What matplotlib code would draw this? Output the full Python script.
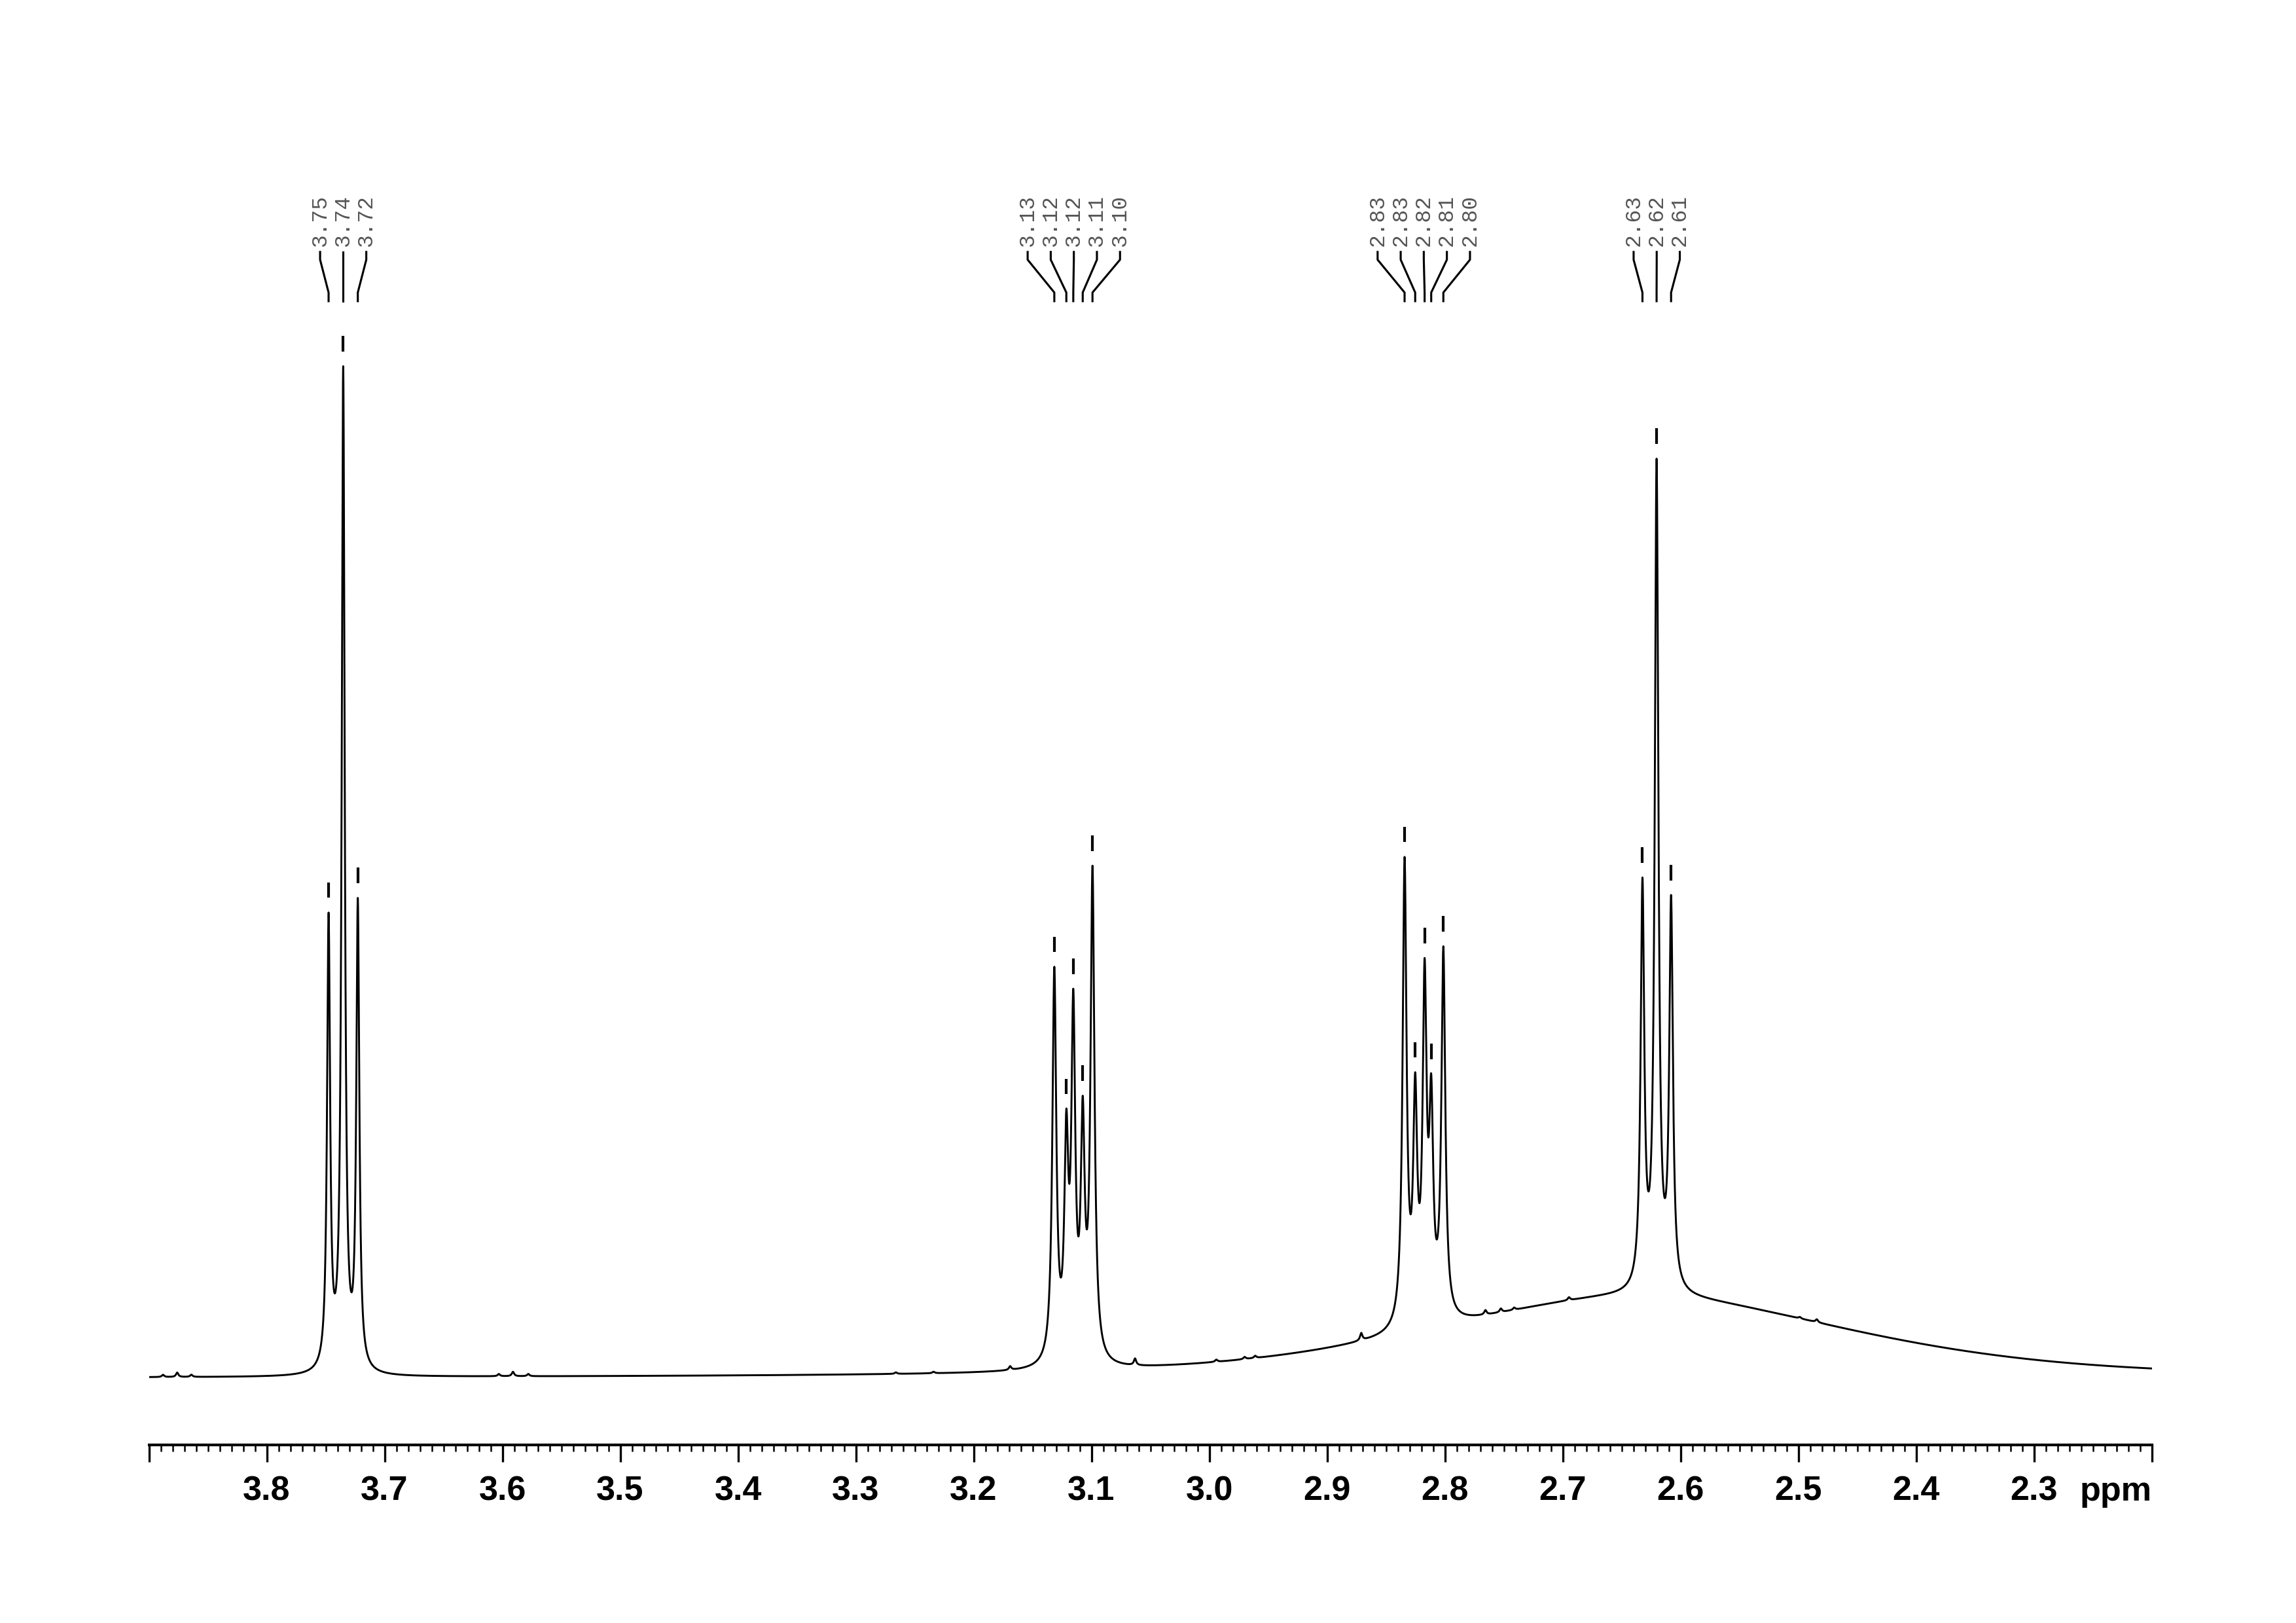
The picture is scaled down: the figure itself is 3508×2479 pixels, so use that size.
import numpy as np
import matplotlib.pyplot as plt

# chemical shifts (ppm) and apparent peak-top heights
t1_ppm = [3.7475, 3.7351, 3.7227]
t1_top = [317, 690, 327]
m2_ppm = [3.1315, 3.1213, 3.1154, 3.1074, 3.0991]
m2_top = [280, 183, 265, 192, 349]
m3_ppm = [2.8342, 2.8252, 2.8172, 2.8116, 2.8013]
m3_top = [355, 208, 286, 207, 294]
t4_ppm = [2.6323, 2.6203, 2.6080]
t4_top = [341, 627, 329]

# half widths per multiplet (ppm)
group_hw = [0.00155, 0.0020, 0.0020, 0.00185]

# peak labels as printed above the multiplets
t1_lab = ['3.75', '3.74', '3.72']
m2_lab = ['3.13', '3.12', '3.12', '3.11', '3.10']
m3_lab = ['2.83', '2.83', '2.82', '2.81', '2.80']
t4_lab = ['2.63', '2.62', '2.61']

# broad underlying signal
hump_ppm = 2.635
hump_height = 56
hump_hw = 0.21
offset = -1.0

# small impurity lines
minor_ppm = [3.888, 3.876, 3.864, 3.603, 3.591, 3.578, 3.266, 3.234, 3.169,
             3.063, 2.994, 2.970, 2.961, 2.871, 2.7656, 2.7525, 2.7412,
             2.6947, 2.4987, 2.4843]
minor_h = [1.5, 3, 1.5, 1.5, 3, 1.5, 1, 1, 2.5,
           4.5, 1.5, 1.5, 1.5, 5, 3, 2.5, 1.5,
           2, 1, 2]
minor_hw = 0.0012


def lorentz(x, x0, hw):
    return 1.0 / (1.0 + ((x - x0) / hw) ** 2)


def background(x):
    x = np.asarray(x, dtype=float)
    sig = hump_hw / 1.1774
    hump = hump_height * (0.5 * lorentz(x, hump_ppm, hump_hw)
                          + 0.5 * np.exp(-(x - hump_ppm) ** 2 / (2 * sig ** 2)))
    y = hump + offset
    for p, h in zip(minor_ppm, minor_h):
        y = y + h * lorentz(x, p, minor_hw)
    return y


groups = [(t1_ppm, t1_top, t1_lab), (m2_ppm, m2_top, m2_lab),
          (m3_ppm, m3_top, m3_lab), (t4_ppm, t4_top, t4_lab)]

pos = np.array([p for g in groups for p in g[0]])
tops = np.array([t for g in groups for t in g[1]], dtype=float)
hws = np.array([group_hw[i] for i, g in enumerate(groups) for _ in g[0]])

# amplitudes so that the summed curve reaches the read peak tops
L = lorentz(pos[:, None], pos[None, :], hws[None, :])
amps = np.linalg.solve(L, tops - background(pos))


def spectrum(x):
    x = np.asarray(x, dtype=float)
    y = background(x)
    for p, a, w in zip(pos, amps, hws):
        y = y + a * lorentz(x, p, w)
    return y


fig = plt.figure(figsize=(3508 / 300, 2479 / 300), dpi=300)
ax = fig.add_axes([0.06486, 0.10957, 0.87232, 0.89043])

x = np.linspace(3.90, 2.20, 24000)
ax.plot(x, spectrum(x), color='black', lw=0.7)

ax.set_xlim(3.90, 2.20)
ax.set_ylim(-46.6, 940)

# peak picking labels, connectors and markers
spacing = 0.0196
for ppm, top, lab in groups:
    n = len(ppm)
    c = np.mean(ppm)
    for k in range(n):
        lx = c + ((n - 1) / 2 - k) * spacing
        ax.text(lx, 772, lab[k], rotation=90, ha='center', va='bottom',
                fontsize=7.9, family=['Liberation Mono', 'DejaVu Sans Mono'],
                color='#555555', clip_on=False)
        ax.plot([lx, lx, ppm[k], ppm[k]], [768, 762.7, 740.3, 734.4],
                color='black', lw=0.75, clip_on=False)
        yt = float(spectrum(ppm[k]))
        ax.plot([ppm[k], ppm[k]], [yt + 10, yt + 20.6], color='black',
                lw=1.0, solid_capstyle='butt', clip_on=False)

for s in ['left', 'right', 'top']:
    ax.spines[s].set_visible(False)
ax.spines['bottom'].set_linewidth(1.0)
ax.set_yticks([])

major = np.round(np.arange(2.2, 3.91, 0.1), 2)
ax.set_xticks(major)
ax.set_xticklabels(['' if (m > 3.85 or m < 2.25) else f'{m:.1f}' for m in major],
                   family='Liberation Sans', fontweight='bold', fontsize=12.5)
ax.set_xticks(np.round(np.arange(2.2, 3.905, 0.01), 2), minor=True)
ax.tick_params(axis='x', which='major', direction='out', length=6.2, width=0.8, pad=4.8)
ax.tick_params(axis='x', which='minor', direction='out', length=2.5, width=0.6)

ax.text(1.0, -67.5, 'ppm', transform=ax.get_yaxis_transform(),
        ha='right', va='top', family='Liberation Sans', fontweight='bold',
        fontsize=12.5)

fig.savefig('out.png', dpi=300)
